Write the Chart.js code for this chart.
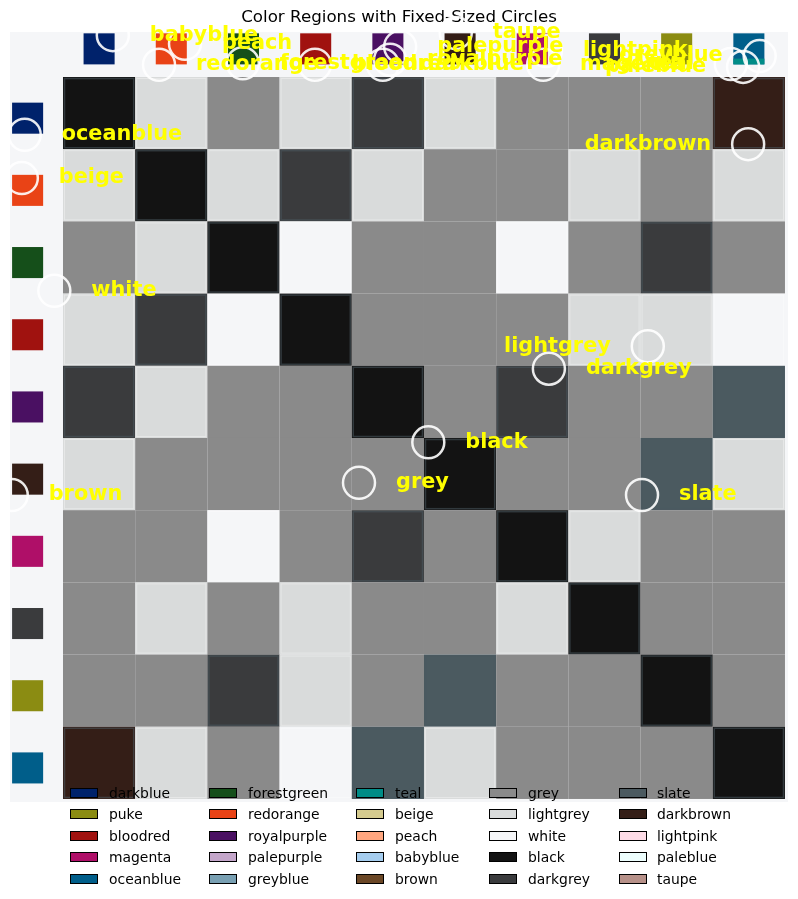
<!DOCTYPE html>
<html>
<head>
<meta charset="utf-8">
<script src="https://cdn.jsdelivr.net/npm/chart.js@4.4.1/dist/chart.umd.min.js"></script>
<style>
  html, body { margin: 0; padding: 0; background: #ffffff; }
  #wrap { position: relative; width: 798px; height: 899px; }
  #legend { position: absolute; left: 0; top: 0; width: 798px; height: 899px; pointer-events: none;
            font-family: "DejaVu Sans", sans-serif; font-size: 13.9px; color: #000; }
  .li { position: absolute; height: 16px; line-height: 16px; white-space: nowrap; }
  .lb { position: absolute; width: 26px; height: 8px; border: 1px solid #000; }
</style>
</head>
<body>
<div id="wrap">
  <canvas id="c" width="798" height="899"></canvas>
  <div id="legend"></div>
</div>
<script>
// ---------------- data ----------------
const legendNames = ['darkblue','puke','bloodred','magenta','oceanblue',
                     'forestgreen','redorange','royalpurple','palepurple','greyblue',
                     'teal','beige','peach','babyblue','brown',
                     'grey','lightgrey','white','black','darkgrey',
                     'slate','darkbrown','lightpink','paleblue','taupe'];
const legendColors = ['#00226b','#8b8c12','#a0120f','#af0f68','#005e8a',
                      '#154f1a','#e94316','#4a1062','#c4a6ca','#79a0b3',
                      '#008c87','#d5cb8f','#ffa67f','#a5cdef','#6b4726',
                      '#8a8a8a','#d9dbdb','#f5f6f8','#131313','#3a3b3d',
                      '#4b5a60','#341e17','#fddbe6','#edfefd','#b79189'];

// header colour swatches (columns on top, rows on the left)
const headerColors = ['darkblue','redorange','forestgreen','bloodred','royalpurple',
                      'darkbrown','magenta','darkgrey','puke','oceanblue'];
const headerAccent = [null, null, null, null, null, null, null, null, null, 'teal'];

// 10x10 grid of shades
const gridRows = [
  ['black','lightgrey','grey','lightgrey','darkgrey','lightgrey','grey','grey','grey','darkbrown'],
  ['lightgrey','black','lightgrey','darkgrey','lightgrey','grey','grey','lightgrey','grey','lightgrey'],
  ['grey','lightgrey','black','white','grey','grey','white','grey','darkgrey','grey'],
  ['lightgrey','darkgrey','white','black','grey','grey','grey','lightgrey','lightgrey','white'],
  ['darkgrey','lightgrey','grey','grey','black','grey','darkgrey','grey','grey','slate'],
  ['lightgrey','grey','grey','grey','grey','black','grey','grey','slate','lightgrey'],
  ['grey','grey','white','grey','darkgrey','grey','black','lightgrey','grey','grey'],
  ['grey','lightgrey','grey','lightgrey','grey','grey','lightgrey','black','grey','grey'],
  ['grey','grey','darkgrey','lightgrey','grey','slate','grey','grey','black','grey'],
  ['darkbrown','lightgrey','grey','white','slate','lightgrey','grey','grey','grey','black']
];

// labelled circles (grid units: column, row)
const circleLabels = ['babyblue','peach','redorange','forestgreen','bloodred','darkblue','royalpurple',
                      'palepurple','taupe','magenta','lightpink','paleblue','greyblue','teal',
                      'oceanblue','beige','white','darkbrown','lightgrey','darkgrey','black',
                      'grey','brown','slate'];
const circleX = [0.69, 1.69, 1.33, 2.49, 3.49, 4.43, 4.53,
                 4.67, 5.44, 6.65, 6.69, 9.42, 9.65, 9.25,
                 -0.53, -0.57, -0.12, 9.49, 8.10, 6.73, 5.06,
                 4.10, -0.71, 8.02];
const circleY = [-0.58, -0.46, -0.17, -0.19, -0.17, -0.17, -0.24,
                 -0.42, -0.61, -0.17, -0.36, -0.14, -0.29, -0.18,
                 0.80, 1.40, 2.96, 0.93, 3.73, 4.04, 5.06,
                 5.62, 5.79, 5.79];
const labelSide = ['R','R','R','R','R','R','R',
                   'R','R','R','R','L','L','L',
                   'R','R','R','L','L','R','R',
                   'R','R','R'];

// ---------------- helpers ----------------
const colorOf = {};
legendNames.forEach((n, i) => colorOf[n] = legendColors[i]);

const gridPlugin = {
  id: 'gridPlugin',
  beforeDatasetsDraw(chart) {
    const { ctx, chartArea: a, scales: { x, y } } = chart;
    ctx.save();
    ctx.fillStyle = '#f5f6f8';
    ctx.fillRect(a.left, a.top, a.width, a.height);
    // cells
    gridRows.forEach((row, r) => {
      row.forEach((name, c) => {
        const x0 = x.getPixelForValue(c), x1 = x.getPixelForValue(c + 1);
        const y0 = y.getPixelForValue(r), y1 = y.getPixelForValue(r + 1);
        ctx.fillStyle = colorOf[name];
        ctx.fillRect(x0, y0, x1 - x0, y1 - y0);
      });
    });
    gridRows.forEach((row, r) => {
      row.forEach((name, c) => {
        if (name === 'grey') return;
        const x0 = x.getPixelForValue(c), x1 = x.getPixelForValue(c + 1);
        const y0 = y.getPixelForValue(r), y1 = y.getPixelForValue(r + 1);
        const light = (name === 'white' || name === 'lightgrey');
        ctx.strokeStyle = light ? 'rgba(255,255,255,0.35)' : 'rgba(75,90,96,0.55)';
        ctx.lineWidth = light ? 1 : 1.5;
        ctx.strokeRect(x0 + 1.5, y0 + 1.5, x1 - x0 - 3, y1 - y0 - 3);
      });
    });
    // header swatches
    const half = (x.getPixelForValue(0.215) - x.getPixelForValue(0));
    const strip = (x.getPixelForValue(0.08) - x.getPixelForValue(0));
    headerColors.forEach((name, i) => {
      // top
      let cx = x.getPixelForValue(i + 0.5), cy = y.getPixelForValue(-0.39);
      ctx.fillStyle = colorOf[name];
      ctx.fillRect(cx - half, cy - half, half * 2, half * 2);
      if (headerAccent[i]) {
        ctx.fillStyle = colorOf[headerAccent[i]];
        ctx.fillRect(cx - half, cy + half - strip, half * 2, strip);
      }
      // left
      cx = x.getPixelForValue(-0.49); cy = y.getPixelForValue(i + 0.57);
      ctx.fillStyle = colorOf[name];
      ctx.fillRect(cx - half, cy - half, half * 2, half * 2);
    });
    ctx.restore();
  },
  afterDatasetsDraw(chart) {
    const { ctx, scales: { x, y } } = chart;
    ctx.save();
    ctx.font = 'bold 20.8px "DejaVu Sans"';
    ctx.fillStyle = '#ffff00';
    ctx.textBaseline = 'middle';
    circleLabels.forEach((lab, i) => {
      const px = x.getPixelForValue(circleX[i]);
      const py = y.getPixelForValue(circleY[i]);
      if (labelSide[i] === 'R') { ctx.textAlign = 'left'; ctx.fillText(lab, px + 37, py); }
      else { ctx.textAlign = 'right'; ctx.fillText(lab, px - 37, py); }
    });
    ctx.restore();
  }
};

new Chart(document.getElementById('c'), {
  type: 'scatter',
  data: {
    datasets: [{
      label: 'circles',
      data: circleX.map((v, i) => ({ x: v, y: circleY[i] })),
      pointRadius: 16,
      pointHoverRadius: 16,
      pointBorderWidth: 2.5,
      pointBorderColor: 'rgba(255,255,255,0.9)',
      pointBackgroundColor: 'rgba(0,0,0,0)',
      clip: false
    }]
  },
  options: {
    responsive: false,
    animation: false,
    events: [],
    layout: { autoPadding: false, padding: { left: 10, right: 10, top: 0, bottom: 97 } },
    scales: {
      x: { type: 'linear', display: false, min: -0.734, max: 10.042 },
      y: { type: 'linear', display: false, reverse: true, min: -0.623, max: 10.042 }
    },
    plugins: {
      legend: { display: false },
      tooltip: { enabled: false },
      title: {
        display: true,
        text: 'Color Regions with Fixed-Sized Circles',
        color: '#000',
        font: { family: 'DejaVu Sans', size: 16.7, weight: 'normal' },
        padding: { top: 8, bottom: 4 }
      }
    }
  },
  plugins: [gridPlugin]
});

// ---------------- legend (HTML, column-major 5x5) ----------------
const legBoxX = [70, 209, 356, 489, 619];
const legTextX = [109, 248, 395, 528, 657];
const legRowY = [793, 814, 835.5, 857, 878.5];
const legEl = document.getElementById('legend');
legendNames.forEach((n, i) => {
  const col = Math.floor(i / 5), row = i % 5;
  const b = document.createElement('div');
  b.className = 'lb';
  b.style.left = legBoxX[col] + 'px';
  b.style.top = (legRowY[row] - 5) + 'px';
  b.style.background = legendColors[i];
  legEl.appendChild(b);
  const t = document.createElement('div');
  t.className = 'li';
  t.style.left = legTextX[col] + 'px';
  t.style.top = (legRowY[row] - 8) + 'px';
  t.textContent = n;
  legEl.appendChild(t);
});
</script>
</body>
</html>
